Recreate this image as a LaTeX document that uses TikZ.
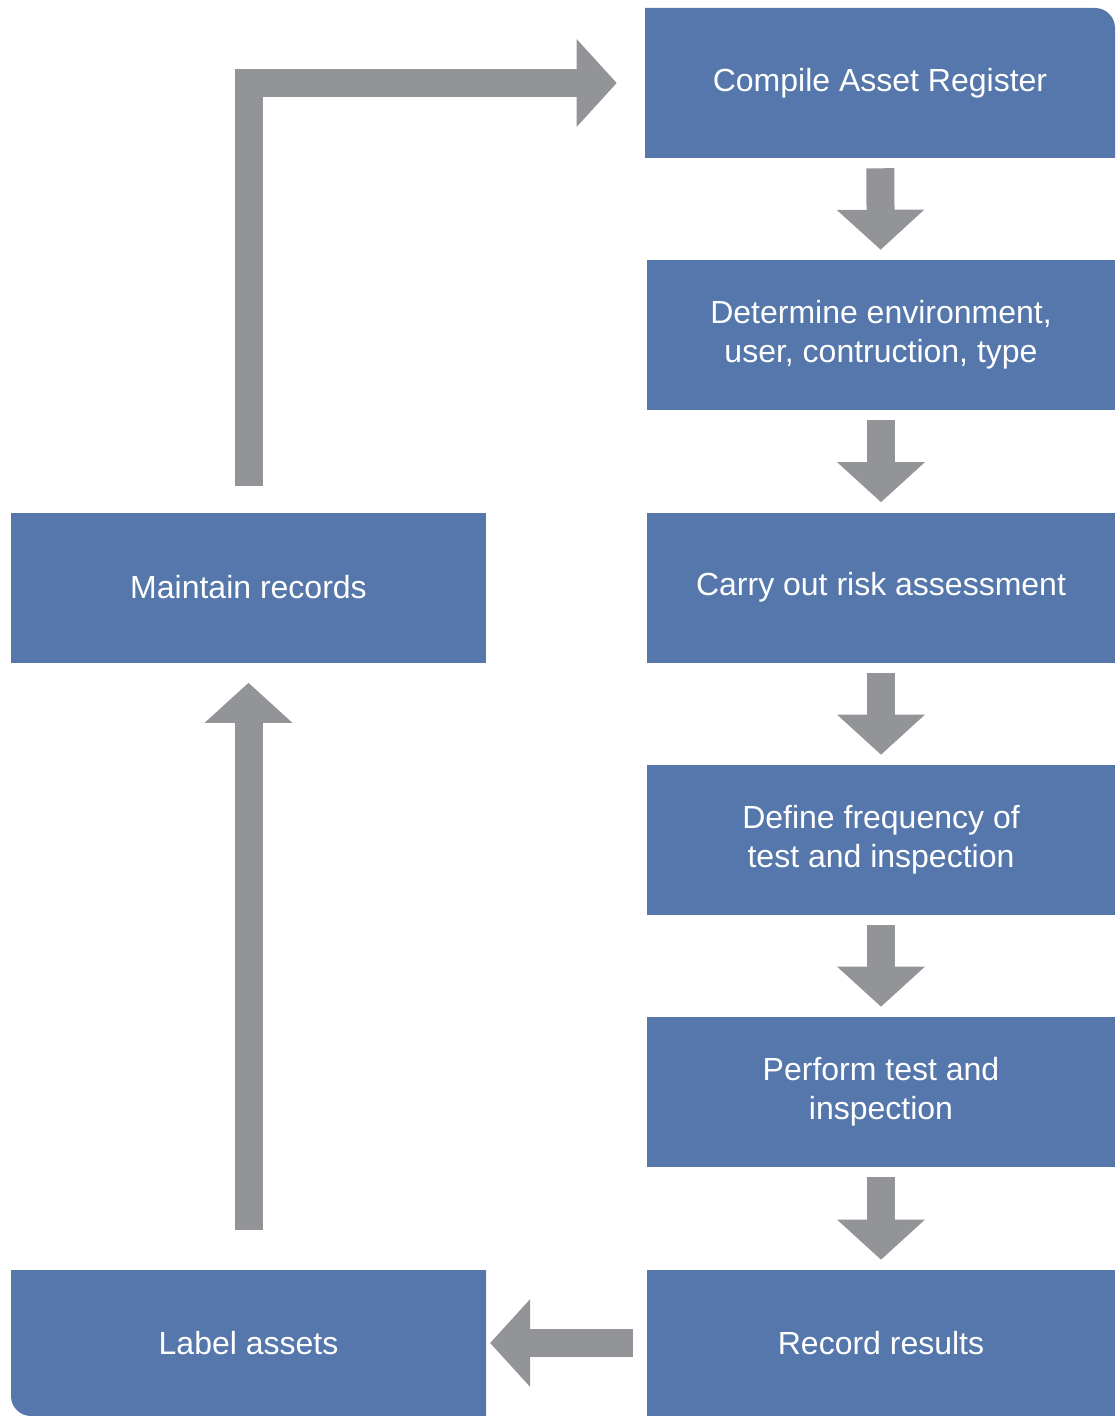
\documentclass[tikz,border=0pt]{standalone}
\usepackage{fontspec}
\setmainfont{Liberation Sans}
\usetikzlibrary{arrows.meta}
\definecolor{stepblue}{RGB}{85,119,172}
\definecolor{flowgray}{RGB}{147,148,152}
\tikzset{
  stepbox/.style={fill=stepblue, text=white, align=center, inner sep=0pt,
    minimum width=351pt, minimum height=112.5pt,
    font=\fontsize{24pt}{29pt}\selectfont},
  steptext/.style={stepbox, fill=none},
  flow/.style={draw=flowgray, line width=21pt,
    -{Triangle[width=64pt, length=30pt]}, flowgray}
}
\begin{document}
\begin{tikzpicture}[x=0.75pt, y=-0.75pt]
  \useasboundingbox (0,0) rectangle (1115,1416);
  \fill[stepblue] (645,158) -- (645,8) [rounded corners=15pt] -- (1115,8) [sharp corners] -- (1115,158) -- cycle;
  \fill[stepblue] (486,1416) -- (486,1270) -- (11,1270) [rounded corners=15pt] -- (11,1416) [sharp corners] -- cycle;
  \draw
    (880,83) node[steptext, minimum width=352.5pt] (compile) {Compile Asset Register}
    (881,335) node[stepbox] (environment) {Determine environment,\\user, contruction, type}
    (881,587.5) node[stepbox] (risk) {Carry out risk assessment}
    (881,840) node[stepbox] (frequency) {Define frequency of\\test and inspection}
    (881,1092) node[stepbox] (perform) {Perform test and\\inspection}
    (881,1343) node[stepbox, minimum height=109.5pt] (record) {Record results}
    (248.5,1343) node[steptext, minimum width=356pt, minimum height=109.5pt] (label) {Label assets}
    (248.5,587.5) node[stepbox, minimum width=356pt] (maintain) {Maintain records};
  \begin{scope}[flow, shorten <=7.5pt, shorten >=7.5pt]
    \draw (compile) to (environment);
    \draw (environment) to (risk);
    \draw (risk) to (frequency);
    \draw (frequency) to (perform);
    \draw (perform) to (record);
  \end{scope}
  \draw[flow, shorten <=10.5pt, shorten >=3pt] (record) -- (label);
  \draw[flow, shorten <=30pt, shorten >=15pt] (label) -- (maintain);
  \draw[flow, shorten <=20pt, shorten >=21pt] (maintain) |- (compile);
\end{tikzpicture}
\end{document}
